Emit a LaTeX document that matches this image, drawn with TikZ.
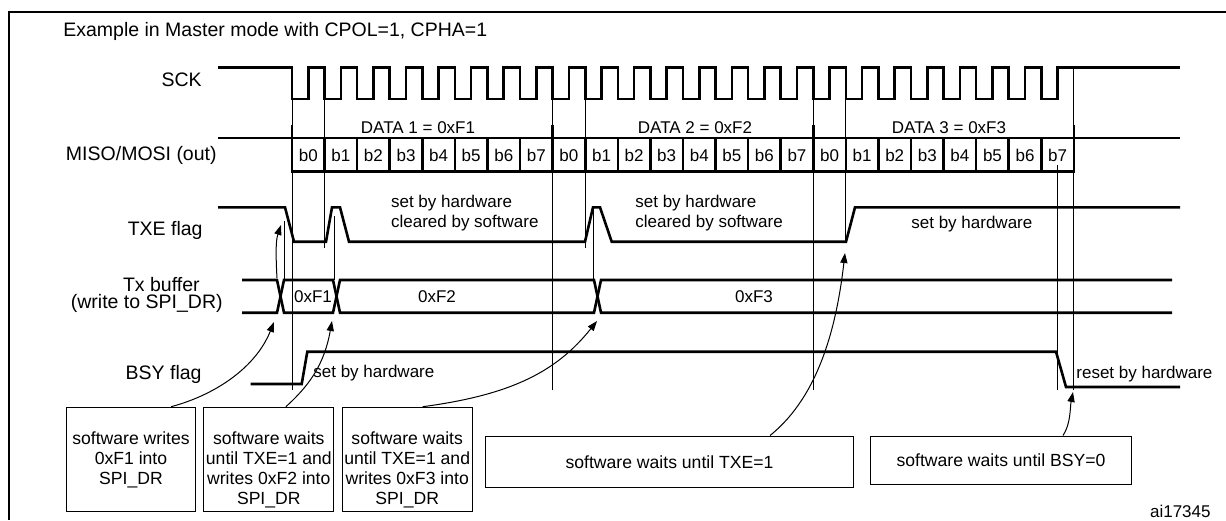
\documentclass[tikz,border=0pt]{standalone}
\usepackage{fontspec}
\setmainfont{Liberation Sans}
\usetikzlibrary{arrows.meta, positioning}
\tikzset{
  every picture/.style={x=0.5pt, y=-0.5pt, line join=miter},
  sig/.style={line width=1.3pt},
  guide/.style={line width=0.45pt},
  siglbl/.style={inner sep=0pt, font=\fontsize{9.75}{11}\selectfont},
  note/.style={inner sep=0pt, font=\fontsize{8.5}{10}\selectfont},
  swbox/.style={draw, line width=0.5pt, inner sep=0pt, anchor=north west, font=\fontsize{8.8}{9.9}\selectfont},
  boxtxt/.style={inner sep=0pt, align=center, font=\fontsize{8.8}{9.9}\selectfont},
  swarrow/.style={-{Triangle[length=5pt, width=3.6pt]}, line width=0.5pt},
}
\newcommand{\bw}{32.58}% one bit
\newcommand{\tz}{292}% first SCK edge

\begin{document}
\begin{tikzpicture}
  \useasboundingbox (0,0) rectangle (1226,520);
  \draw[line width=1pt] (1226,12) -- (9,12) -- (9,520);
  \node[siglbl, anchor=west] (title) at (63,31.7) {Example in Master mode with CPOL=1, CPHA=1};

  % signal names
  \node[siglbl, anchor=east] (sck) at (202,80) {SCK};
  \node[siglbl, anchor=east] (mosi) at (217,155) {MISO/MOSI (out)};
  \node[siglbl, anchor=east] (txe) at (203,230) {TXE flag};
  \node[siglbl, anchor=east] (txb) at (200,284.3) {Tx buffer};
  \node[siglbl, anchor=east] (txbdr) at (223,303.3) {(write to SPI\_DR)};
  \node[siglbl, anchor=east] (bsy) at (202,374) {BSY flag};

  % timing guides
  \draw[guide] (\tz,99) -- (\tz,390);
  \draw[guide] ({\tz+\bw},99) -- ({\tz+\bw},248);
  \draw[guide] ({\tz+8*\bw},99) -- ({\tz+8*\bw},390);
  \draw[guide] ({\tz+9*\bw},99) -- ({\tz+9*\bw},248);
  \draw[guide] ({\tz+16*\bw},99) -- ({\tz+16*\bw},390);
  \draw[guide] ({\tz+17*\bw},99) -- ({\tz+17*\bw},240);
  \draw[guide] ({\tz+23.5*\bw},165) -- ({\tz+23.5*\bw},390);
  \draw[guide] ({\tz+24*\bw},67.7) -- ({\tz+24*\bw},390);
  \draw[guide] (284,221) -- (284,281);
  \draw[guide] (334,216) -- (334,280);
  \draw[guide] (593,210) -- (593,280);

  % SCK, idle high
  \draw[sig] (218,67.7) \foreach \i in {0,...,23}{
      -- ({\tz+\i*\bw},67.7) -- ({\tz+\i*\bw},99) -- ({\tz+(\i+.5)*\bw},99) -- ({\tz+(\i+.5)*\bw},67.7)}
    -- (1180,67.7);

  % MISO/MOSI
  \draw[sig] (218,138) -- (1180,138);
  \draw[sig] (\tz,171.7) -- ({\tz+24*\bw},171.7);
  \foreach \i in {0,...,24}
    \draw[sig, line cap=rect] ({\tz+\i*\bw},138) -- ({\tz+\i*\bw},171.7);
  \foreach \i in {0,8,16,24}
    \draw[sig] ({\tz+\i*\bw},125) -- ({\tz+\i*\bw},138);
  \foreach \i in {0,...,23}{
    \pgfmathtruncatemacro\bit{mod(\i,8)}
    \node[note] (bit\i) at ({\tz+(\i+.5)*\bw},155) {b\bit};
  }
  \node[note] (data1) at (418,128) {DATA 1 = 0xF1};
  \node[note] (data2) at (695,128) {DATA 2 = 0xF2};
  \node[note] (data3) at (949,128) {DATA 3 = 0xF3};

  % TXE flag
  \draw[sig] (218,207.3) -- (285,207.3) -- (294,241.7) -- (326,241.7) -- (332,207.3) -- (340,207.3)
    -- (349,241.7) -- (585,241.7) -- (593,207.3) -- (600,207.3) -- (611.7,241.7) -- (846,241.7)
    -- (855,207.3) -- (1180,207.3);
  \node[note, anchor=west, align=left] (hw1) at (390.7,213.3) {set by hardware\\cleared by software};
  \node[note, anchor=west, align=left] (hw2) at (635,213.3) {set by hardware\\cleared by software};
  \node[note, anchor=west] (hw3) at (911,224) {set by hardware};

  % Tx buffer
  \draw[sig] (242,280) -- (277,280) -- (284,312.7) -- (333,312.7) -- (340,280) -- (594,280) -- (601,312.7) -- (1172,312.7);
  \draw[sig] (242,312.7) -- (277,312.7) -- (284,280) -- (333,280) -- (340,312.7) -- (594,312.7) -- (601,280) -- (1172,280);
  \node[note] (val1) at (313,296.7) {0xF1};
  \node[note] (val2) at (437,296.7) {0xF2};
  \node[note] (val3) at (754,296.7) {0xF3};

  % BSY flag
  \draw[sig] (250.7,384) -- (301.7,384) -- (307.3,351.7) -- (1056,351.7) -- (1066,387) -- (1180,387);
  \node[note, anchor=west] (hw4) at (313,373) {set by hardware};
  \node[note, anchor=west] (hw5) at (1076,374) {reset by hardware};

  % software steps
  \node[swbox, minimum width=64.8pt, minimum height=52pt] (sw1) at (65.7,406.7) {};
  \node[swbox, minimum width=65pt, minimum height=52pt] (sw2) at (203.3,406.7) {};
  \node[swbox, minimum width=65pt, minimum height=52pt] (sw3) at (341.7,406.7) {};
  \node[boxtxt, below=12.5pt of sw1.north] (sw1t) {software writes\\0xF1 into\\SPI\_DR};
  \node[boxtxt, below=12.5pt of sw2.north] (sw2t) {software waits\\until TXE=1 and\\writes 0xF2 into\\SPI\_DR};
  \node[boxtxt, below=12.5pt of sw3.north] (sw3t) {software waits\\until TXE=1 and\\writes 0xF3 into\\SPI\_DR};
  \node[swbox, minimum width=184pt, minimum height=25.75pt] (sw4) at (485,435.5) {software waits until TXE=1};
  \node[swbox, minimum width=130.5pt, minimum height=24.25pt] (sw5) at (870,435.5) {software waits until BSY=0};
  \node[note, anchor=east] (fig) at (1211,511.7) {ai17345};

  % arrows
  \coordinate (xw1) at (277,278);
  \coordinate (tf1) at (281,225);
  \coordinate (tw1) at (274,322);
  \coordinate (tw2) at (332,321);
  \coordinate (tw3) at (597,321);
  \coordinate (tt3) at (845,253);
  \coordinate (tb0) at (1073,392);
  \draw[swarrow] (xw1) .. controls +(-2,-35) and +(-4,12) .. (tf1);
  \draw[swarrow] ([xshift=-12.6pt]sw1.north east) .. controls +(45,-12) and +(-18,45) .. (tw1);
  \draw[swarrow] ([xshift=-24.2pt]sw2.north east) .. controls +(22,-20) and +(-8,45) .. (tw2);
  \draw[swarrow] ([xshift=-25pt]sw3.north east) .. controls +(90,-12) and +(-40,50) .. (tw3);
  \draw[swarrow] ([xshift=142.5pt]sw4.north west) .. controls +(50,-40) and +(-8,70) .. (tt3);
  \draw[swarrow] ([xshift=96.5pt]sw5.north west) .. controls +(8,-12) and +(-3,15) .. (tb0);
\end{tikzpicture}
\end{document}
